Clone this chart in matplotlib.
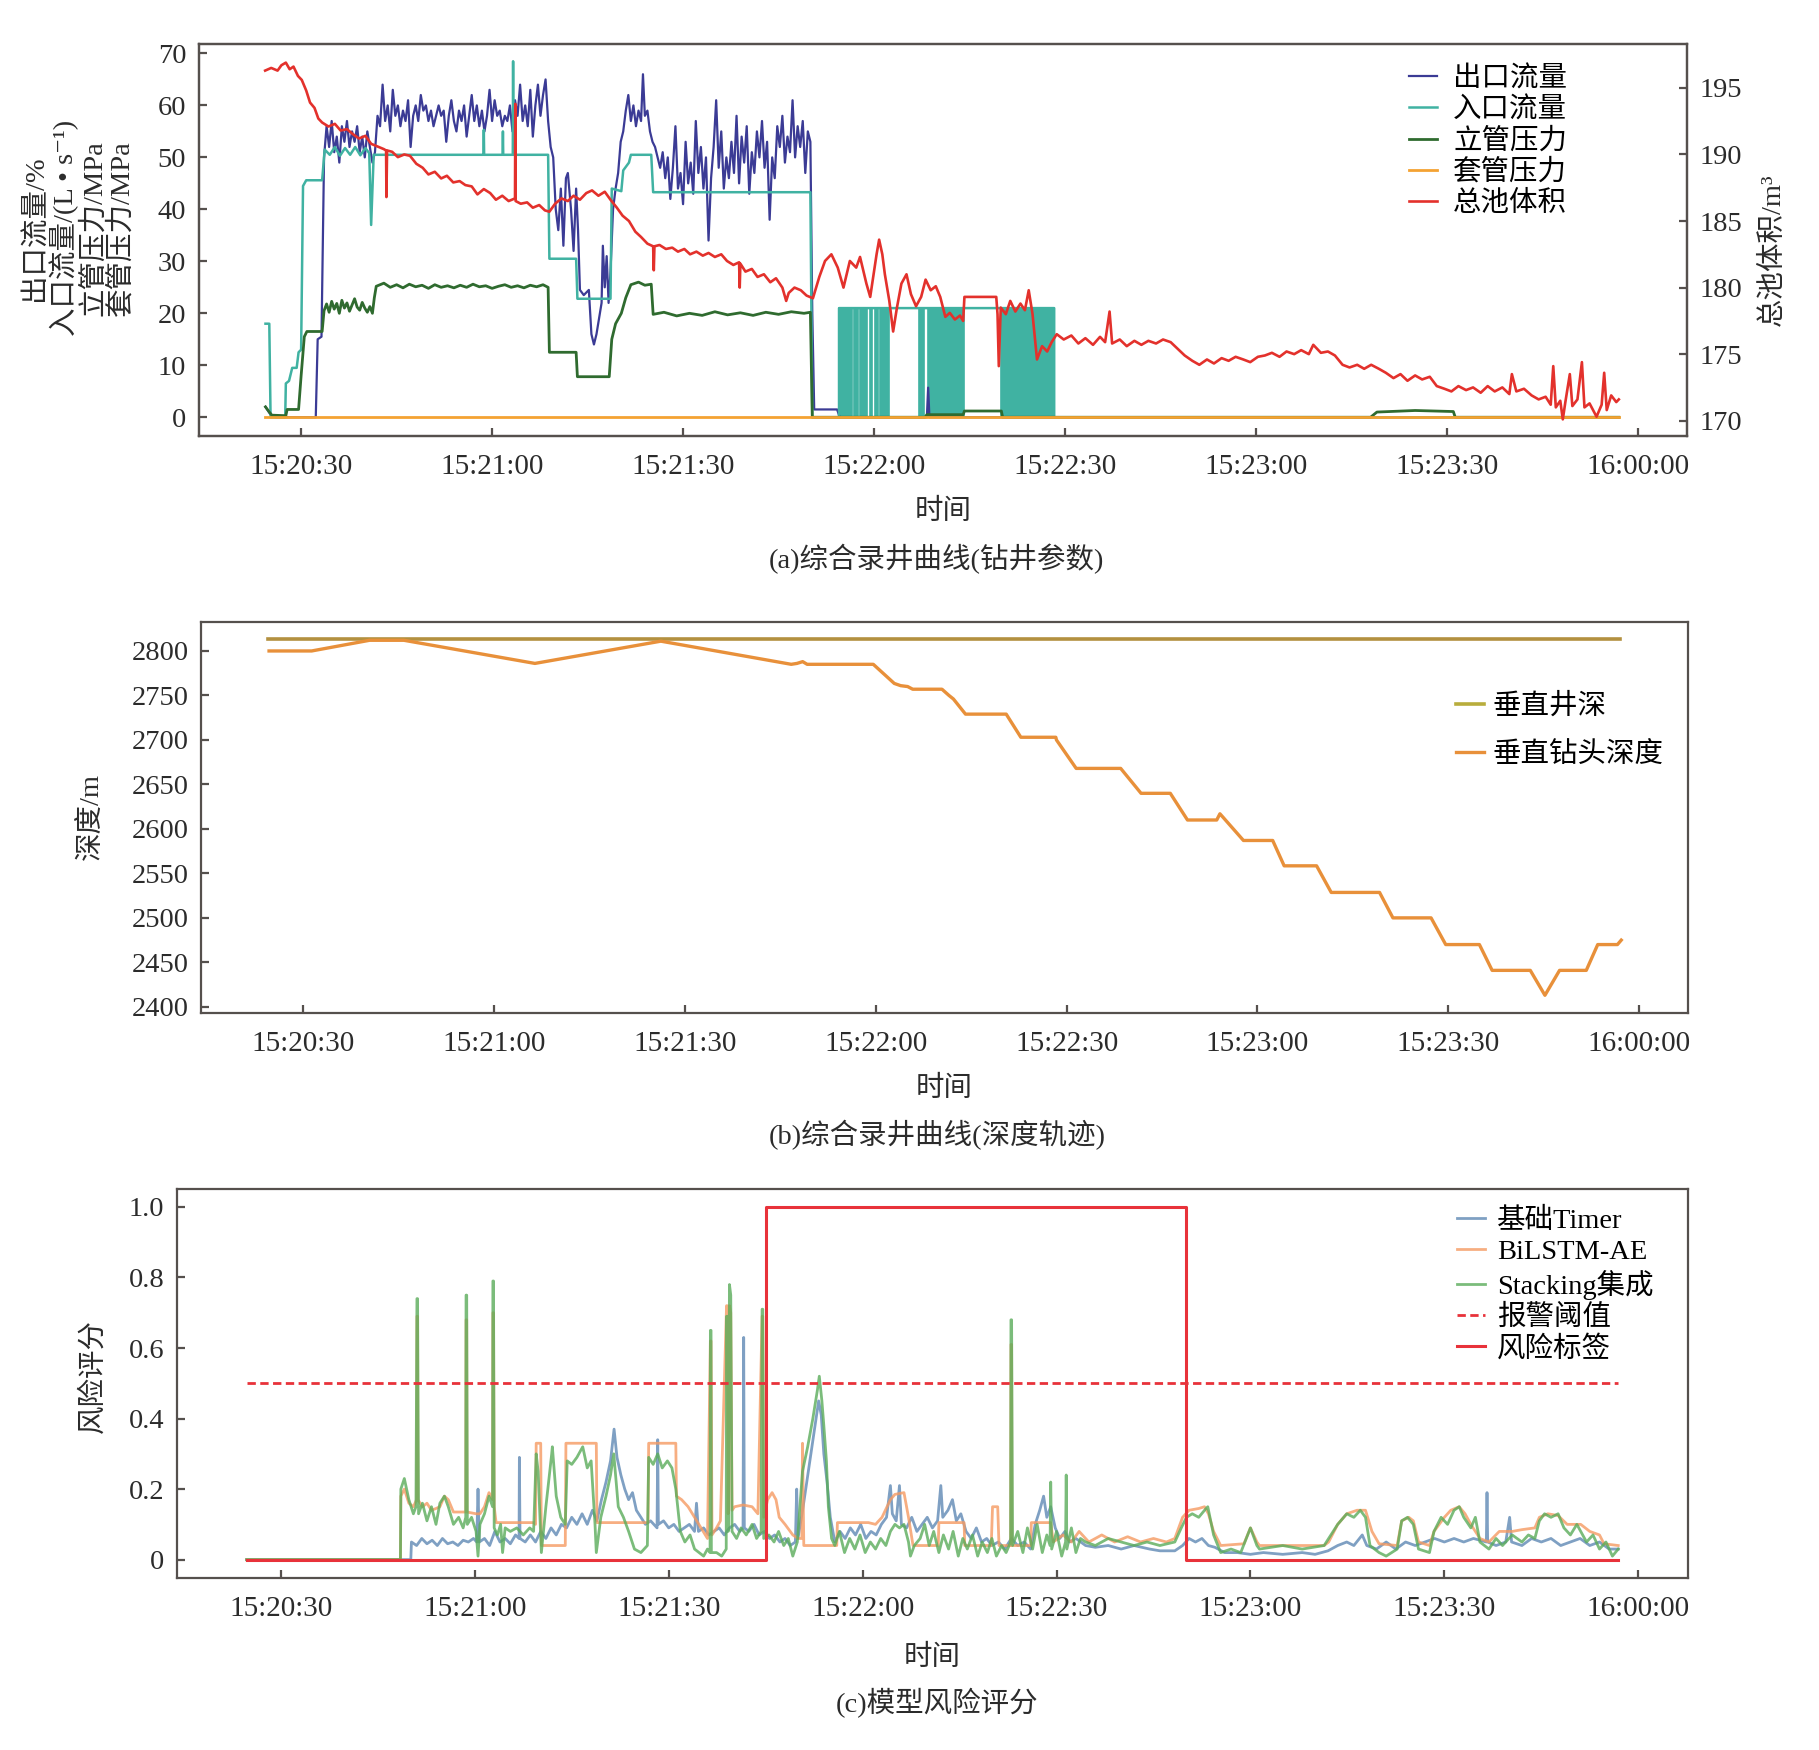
import matplotlib
matplotlib.use('Agg')
import matplotlib.pyplot as plt

plt.rcParams['font.family'] = ['Liberation Serif', 'Noto Sans CJK SC', 'DejaVu Sans']
plt.rcParams['font.size'] = 20.5
plt.rcParams['axes.unicode_minus'] = False

# ---------------- shared time axis (seconds from 15:20:30) ----------------
TICK_SECONDS = [0, 30, 60, 90, 120, 150, 180, 210]
TICK_LABELS = ['15:20:30', '15:21:00', '15:21:30', '15:22:00',
               '15:22:30', '15:23:00', '15:23:30', '16:00:00']

# ---------------- panel (a) data ----------------
OUTLET = [(-5.6, 2.0), (-4.8, 0.5), (-4.0, 0.0), (2.3, 0.0), (2.6, 15.0), (3.2, 15.5), (3.6, 50), (4.0, 56),
          (4.4, 52), (4.8, 57), (5.2, 51), (5.6, 54), (6.0, 49), (6.4, 56), (6.8, 53), (7.2, 57), (7.6, 52),
          (8.0, 55), (8.4, 53), (8.8, 56), (9.2, 51), (9.6, 54), (10.0, 50), (10.4, 55), (10.8, 52), (11.2, 49),
          (11.6, 51), (12.0, 58), (12.4, 56), (12.8, 64), (13.2, 57), (13.6, 60), (14.0, 55), (14.4, 63),
          (14.8, 58), (15.2, 60), (15.6, 56), (16.0, 59), (16.4, 57), (16.8, 61), (17.2, 52), (17.6, 58),
          (18.0, 60), (18.4, 57), (18.8, 62), (19.2, 59), (19.6, 60), (20.0, 57), (20.4, 59), (20.8, 56),
          (21.2, 58), (21.6, 60), (22.0, 58), (22.4, 59), (22.8, 53), (23.2, 58), (23.6, 61), (24.0, 57),
          (24.4, 55), (24.8, 59), (25.2, 57), (25.6, 60), (26.0, 54), (26.4, 58), (26.8, 62), (27.2, 57),
          (27.6, 60), (28.0, 56), (28.4, 59), (28.8, 55), (29.2, 58), (29.6, 63), (30.0, 57), (30.4, 61),
          (30.8, 58), (31.2, 59), (31.6, 56), (32.0, 58), (32.4, 57), (32.8, 60), (33.2, 55), (33.6, 61),
          (34.0, 58), (34.4, 64), (34.8, 57), (35.2, 60), (35.6, 56), (36.0, 63), (36.4, 54), (36.8, 60),
          (37.2, 64), (37.6, 58), (38.0, 62), (38.4, 65), (38.8, 57), (39.2, 52), (39.6, 50), (40.0, 40),
          (40.4, 36), (40.8, 44), (41.2, 33), (41.6, 46), (41.9, 47), (42.4, 40), (42.8, 32), (43.2, 44),
          (43.5, 36), (43.8, 24.5), (44.4, 23.5), (45.2, 24.5), (45.6, 16), (46.0, 14), (46.4, 16), (46.8, 19),
          (47.2, 22), (47.4, 33), (47.7, 25), (48.0, 31), (48.3, 22), (48.6, 28), (49.0, 40), (49.4, 44),
          (49.8, 47), (50.2, 53), (50.6, 55), (51.0, 59), (51.4, 62), (51.8, 57), (52.2, 60), (52.6, 56),
          (53.0, 59), (53.4, 57), (53.7, 66), (54.0, 58), (54.4, 59), (54.8, 55), (55.2, 53), (55.6, 52),
          (56.0, 50), (56.4, 48), (56.8, 51), (57.2, 46), (57.6, 50), (58.0, 42), (58.4, 48), (58.8, 56),
          (59.2, 44), (59.6, 47), (60.0, 41), (60.4, 53), (60.8, 45), (61.2, 49), (61.6, 43), (62.0, 57),
          (62.4, 47), (62.8, 52), (63.2, 44), (63.6, 50), (64.0, 34), (64.4, 46), (64.8, 52), (65.2, 61),
          (65.6, 48), (66.0, 55), (66.4, 44), (66.8, 50), (67.2, 46), (67.6, 53), (68.0, 47), (68.4, 58),
          (68.8, 45), (69.2, 54), (69.6, 49), (70.0, 56), (70.4, 43), (70.8, 51), (71.2, 47), (71.6, 55),
          (72.0, 50), (72.4, 57), (72.8, 48), (73.2, 53), (73.6, 38), (74.0, 50), (74.4, 46), (74.8, 56),
          (75.2, 52), (75.6, 58), (76.0, 49), (76.4, 54), (76.8, 51), (77.2, 61), (77.6, 50), (78.0, 56),
          (78.4, 52), (78.8, 57), (79.2, 47), (79.6, 55), (80.0, 53), (80.3, 20), (80.6, 1.5), (84.2, 1.5),
          (84.6, 0.0), (98.3, 0.0), (98.5, 5.7), (98.7, 0.0), (207.0, 0.0)]

INLET = [(-5.6, 18.0), (-5.0, 18.0), (-4.8, 0.0), (-2.5, 0.0), (-2.4, 6.5), (-1.9, 7.0), (-1.4, 9.5),
         (-0.7, 9.5), (-0.4, 12.5), (0.0, 13.0), (0.3, 44.5), (0.8, 45.6), (3.3, 45.6), (3.7, 51.5),
         (4.5, 50.5), (5.3, 52.0), (6.1, 50.3), (6.9, 51.8), (7.7, 50.5), (8.5, 52.0), (9.3, 50.4),
         (10.1, 51.8), (10.7, 50.8), (11.0, 37.0), (11.4, 50.5), (28.65, 50.5), (28.7, 55.3), (28.75, 50.5),
         (31.65, 50.5), (31.7, 55.0), (31.75, 50.5), (33.25, 50.5), (33.3, 68.5), (33.35, 50.5), (38.8, 50.5),
         (39.0, 30.5), (43.2, 30.5), (43.4, 22.8), (48.6, 22.8), (48.8, 44.0), (50.3, 43.5), (50.6, 47.5),
         (51.5, 49.0), (51.8, 50.5), (55.0, 50.5), (55.3, 43.3), (80.0, 43.3), (80.3, 0.0), (84.5, 0.0),
         (84.5, 21.0), (118.3, 21.0), (118.3, 0.0), (207.0, 0.0)]
# intervals where the inlet flow toggles 0 <-> 21 too fast to resolve (appears filled)
INLET_TOGGLE_SPANS = [(84.5, 86.5), (86.8, 87.5), (87.8, 88.9), (89.3, 89.7), (90.2, 90.7), (91.0, 92.3),
                      (97.0, 97.8), (98.5, 104.2), (109.9, 118.3)]
INLET_TOGGLE_HIGH = 21.0

SPP = [(-5.6, 2.0), (-5.0, 1.0), (-4.6, 0.4), (-2.4, 0.3), (-2.2, 1.5), (-0.4, 1.5), (0.0, 8), (0.5, 15.5),
       (0.9, 16.5), (3.3, 16.5), (3.6, 20.5), (4.0, 21.8), (4.4, 20.2), (4.8, 22.3), (5.2, 20.8), (5.6, 21.9),
       (6.0, 20.0), (6.4, 22.5), (6.8, 21.0), (7.2, 22.0), (7.6, 20.4), (8.0, 21.6), (8.4, 22.8), (8.8, 21.2),
       (9.2, 20.6), (9.6, 22.1), (10.0, 21.0), (10.4, 20.2), (10.8, 21.3), (11.2, 20.0), (11.5, 23),
       (11.8, 25.2), (13, 25.8), (14, 25.0), (15, 25.5), (16, 24.9), (17, 25.6), (18, 25.1), (19, 25.4),
       (20, 24.8), (21, 25.5), (22, 25.0), (23, 25.3), (24, 24.9), (25, 25.4), (26, 25.0), (27, 25.6),
       (28, 25.1), (29, 25.3), (30, 24.8), (31, 25.2), (32, 25.5), (33, 25.0), (34, 25.3), (35, 24.9),
       (36, 25.4), (37, 25.1), (38, 25.5), (38.8, 25.0), (39.0, 12.5), (43.2, 12.5), (43.4, 7.8), (48.4, 7.8),
       (48.8, 15.0), (49.4, 18.0), (50.3, 20.0), (51.0, 23.0), (51.8, 25.5), (53, 26.0), (54, 25.4),
       (55.0, 25.6), (55.3, 19.8), (57, 20.2), (59, 19.5), (61, 20.0), (63, 19.6), (65, 20.3), (67, 19.7),
       (69, 20.1), (71, 19.6), (73, 20.2), (75, 19.8), (77, 20.3), (79, 20.0), (80.0, 20.2), (80.3, 0.0),
       (98.0, 0.0), (98.3, 0.5), (104.0, 0.5), (104.2, 1.2), (110.0, 1.2), (110.2, 0.0), (168.0, 0.0),
       (169.0, 1.0), (175, 1.3), (181.0, 1.1), (181.3, 0.0), (207.0, 0.0)]

CASING = [(-5.6, 0.0), (207.0, 0.0)]

POOL = [(-5.65, 196.3), (-4.7, 196.5), (-3.7, 196.3), (-3.1, 196.7), (-2.4, 196.9), (-1.8, 196.4), (-1.2, 196.6),
        (-0.5, 195.9), (0.1, 195.6), (0.8, 194.8), (1.4, 193.9), (2.1, 193.5), (2.7, 192.7), (3.3, 192.4),
        (4.3, 192.1), (5.3, 192.3), (6.2, 191.8), (7.2, 191.9), (8.2, 191.5), (9.1, 191.2), (10.1, 191.4),
        (11.0, 190.8), (12.0, 190.6), (13.0, 190.4), (13.35, 190.3), (13.4, 186.8), (13.5, 190.3), (14.3, 190.2),
        (15.2, 189.8), (16.2, 190.0), (17.1, 189.9), (18.1, 189.3), (19.1, 189.0), (20.0, 188.5), (21.0, 188.7),
        (22.0, 188.2), (22.9, 188.4), (23.9, 187.9), (24.9, 188.0), (25.8, 187.7), (26.8, 187.6), (27.7, 187.0),
        (28.7, 187.4), (29.7, 187.1), (30.6, 186.6), (31.6, 186.9), (32.6, 186.5), (33.6, 186.7), (33.65, 193.8),
        (33.7, 186.5), (34.5, 186.3), (35.5, 186.4), (36.4, 186.0), (37.4, 186.2), (38.3, 185.8), (39.0, 185.7),
        (39.9, 186.3), (40.9, 186.7), (41.9, 186.5), (42.8, 186.9), (43.8, 186.6), (44.8, 187.1), (45.7, 187.3),
        (46.7, 186.9), (47.7, 187.2), (48.6, 186.6), (49.6, 186.0), (50.5, 185.4), (51.5, 185.0), (52.5, 184.2),
        (53.4, 183.8), (54.4, 183.3), (55.3, 183.1), (55.4, 181.3), (55.5, 183.1), (56.3, 183.2), (57.3, 182.9),
        (58.3, 183.0), (59.2, 182.7), (60.2, 182.9), (61.1, 182.5), (62.1, 182.7), (63.1, 182.4), (64.0, 182.6),
        (65.0, 182.3), (66.0, 182.5), (66.9, 182.0), (67.9, 181.7), (68.8, 181.9), (68.9, 180.0), (69.0, 181.8),
        (69.8, 181.2), (70.8, 181.4), (71.7, 180.8), (72.7, 181.0), (73.7, 180.4), (74.6, 180.7), (75.6, 180.0),
        (76.2, 179.0), (76.6, 179.6), (77.5, 180.0), (78.5, 179.8), (79.4, 179.4), (80.4, 179.2), (81.4, 180.8),
        (82.3, 182.0), (83.3, 182.5), (84.3, 181.5), (85.2, 180.0), (86.2, 182.0), (87.2, 181.5), (87.8, 182.3),
        (88.8, 180.3), (89.4, 179.3), (90.4, 182.5), (90.8, 183.6), (91.3, 182.5), (91.7, 181.0), (92.4, 179.0),
        (93.0, 176.7), (93.6, 178.5), (94.3, 180.3), (95.1, 181.0), (95.8, 179.5), (96.6, 178.6), (97.4, 179.3),
        (98.1, 180.6), (98.9, 179.8), (99.7, 180.1), (100.4, 179.3), (101.2, 177.8), (101.9, 178.1),
        (102.7, 177.6), (103.5, 177.9), (104.0, 177.5), (104.2, 179.3), (109.2, 179.3), (109.4, 178.0),
        (109.6, 174.1), (109.9, 178.5), (110.7, 178.0), (111.4, 179.0), (112.2, 178.2), (113.0, 178.8),
        (113.7, 178.3), (114.3, 179.8), (114.9, 178.0), (115.6, 174.6), (116.4, 175.6), (117.2, 175.2),
        (117.9, 175.9), (118.7, 176.5), (119.8, 176.1), (121.0, 176.4), (122.1, 175.8), (123.2, 176.2),
        (124.4, 175.7), (125.5, 176.3), (126.3, 175.9), (127.0, 178.2), (127.4, 175.8), (128.6, 176.1),
        (129.7, 175.6), (130.9, 176.0), (132.0, 175.7), (133.1, 176.0), (134.3, 175.8), (135.4, 176.1),
        (136.6, 175.9), (137.7, 175.4), (138.8, 174.9), (140.0, 174.5), (141.1, 174.2), (142.3, 174.6),
        (143.4, 174.3), (144.6, 174.7), (145.7, 174.5), (146.8, 174.8), (148.0, 174.6), (149.1, 174.4),
        (150.3, 174.8), (151.4, 174.9), (152.5, 175.1), (153.7, 174.8), (154.8, 175.2), (156.0, 175.0),
        (157.1, 175.3), (158.3, 175.0), (159.0, 175.7), (160.2, 175.1), (161.3, 175.2), (162.4, 174.9),
        (163.6, 174.2), (164.7, 174.0), (165.9, 174.2), (167.0, 173.9), (168.1, 174.2), (169.3, 173.9),
        (170.4, 173.6), (171.6, 173.2), (172.7, 173.5), (173.8, 173.0), (175.0, 173.4), (176.1, 173.1),
        (177.3, 173.3), (178.4, 172.6), (179.6, 172.4), (180.7, 172.2), (181.8, 172.6), (183.0, 172.3),
        (184.1, 172.5), (185.3, 172.1), (186.4, 172.6), (187.5, 172.2), (188.7, 172.5), (189.8, 172.0),
        (190.2, 173.5), (190.9, 172.2), (192.1, 172.4), (193.3, 171.9), (194.4, 171.6), (195.5, 171.8),
        (196.3, 171.2), (196.7, 174.1), (197.1, 171.0), (197.8, 171.5), (198.2, 170.1), (198.6, 171.4),
        (199.3, 173.5), (199.7, 171.1), (200.5, 171.6), (201.2, 174.4), (201.6, 171.0), (202.4, 171.3),
        (203.5, 170.3), (204.3, 171.2), (204.7, 173.6), (205.1, 170.8), (205.8, 171.9), (206.6, 171.4),
        (207.0, 171.6)]

# ---------------- panel (b) data ----------------
WELL_DEPTH = [(-5.6, 2812.9), (207.0, 2812.9)]
BIT_DEPTH = [(-5.4, 2800), (1.3, 2800), (10.4, 2812), (15.8, 2812), (36.4, 2786), (56.2, 2811), (76.7, 2785),
             (77.6, 2786), (78.5, 2788), (79.2, 2785), (89.6, 2785), (92.9, 2763.5), (93.9, 2761), (95.0, 2760),
             (95.8, 2757), (100.4, 2757), (101.5, 2750), (102.2, 2746), (104.1, 2729), (110.5, 2729),
             (112.8, 2703), (118.3, 2703), (118.4, 2700), (121.5, 2668), (128.5, 2668), (131.7, 2640),
             (136.3, 2640), (139.0, 2610), (143.6, 2610), (144.1, 2617), (144.6, 2613), (147.8, 2587),
             (152.4, 2587), (154.2, 2558.5), (159.3, 2558.5), (161.6, 2528.6), (169.2, 2528.6), (171.3, 2500),
             (177.3, 2500), (179.6, 2470), (184.9, 2470), (186.9, 2441), (192.9, 2441), (195.2, 2413),
             (197.5, 2441), (201.7, 2441), (203.5, 2470), (206.6, 2470), (207.2, 2475)]

# ---------------- panel (c) data ----------------
TIMER = [(-5.3, 0), (20.1, 0), (20.2, 0.05), (21.0, 0.04), (21.8, 0.06), (22.6, 0.045), (23.4, 0.055),
         (24.2, 0.04), (25.0, 0.06), (25.8, 0.045), (26.6, 0.05), (27.4, 0.04), (28.2, 0.055), (29.0, 0.05),
         (29.8, 0.06), (30.3, 0.05), (30.5, 0.20), (30.7, 0.05), (31.5, 0.06), (32.3, 0.04), (33.1, 0.08),
         (33.9, 0.05), (34.7, 0.06), (35.5, 0.045), (36.3, 0.07), (36.85, 0.06), (36.9, 0.29), (37.0, 0.06),
         (37.8, 0.05), (38.6, 0.07), (39.4, 0.05), (40.2, 0.08), (41.0, 0.06), (41.8, 0.09), (42.6, 0.07),
         (43.4, 0.10), (44.2, 0.09), (45.0, 0.12), (45.8, 0.10), (46.6, 0.13), (47.4, 0.10), (48.2, 0.14),
         (48.9, 0.11), (49.6, 0.17), (50.3, 0.22), (51.0, 0.28), (51.55, 0.37), (52.0, 0.29), (52.6, 0.24),
         (53.2, 0.20), (53.8, 0.17), (54.4, 0.19), (55.0, 0.14), (55.7, 0.12), (56.4, 0.10), (57.2, 0.11),
         (58.2, 0.09), (58.3, 0.34), (58.4, 0.10), (59.2, 0.11), (60.0, 0.09), (60.8, 0.10), (61.6, 0.08),
         (62.4, 0.09), (63.2, 0.10), (64.0, 0.08), (64.3, 0.16), (64.6, 0.08), (65.4, 0.09), (66.2, 0.07),
         (67.0, 0.08), (67.8, 0.09), (68.6, 0.07), (69.4, 0.09), (70.2, 0.10), (71.0, 0.08), (71.5, 0.09),
         (71.6, 0.63), (71.7, 0.09), (72.4, 0.08), (73.2, 0.10), (74.0, 0.07), (74.8, 0.08), (75.6, 0.06),
         (76.4, 0.07), (77.2, 0.05), (78.0, 0.06), (78.8, 0.04), (79.6, 0.05), (79.8, 0.20), (80.0, 0.06),
         (80.8, 0.15), (81.6, 0.25), (82.4, 0.35), (83.2, 0.45), (83.6, 0.41), (84.0, 0.30), (84.5, 0.22),
         (85.0, 0.12), (85.7, 0.05), (86.5, 0.08), (87.3, 0.06), (88.1, 0.09), (88.9, 0.07), (89.7, 0.10),
         (90.5, 0.06), (91.3, 0.08), (92.1, 0.07), (92.9, 0.10), (93.7, 0.12), (94.3, 0.21), (94.6, 0.13),
         (95.2, 0.11), (95.7, 0.21), (96.0, 0.10), (96.8, 0.09), (97.6, 0.12), (98.4, 0.08), (99.2, 0.10),
         (100.0, 0.12), (100.8, 0.09), (101.6, 0.11), (102.1, 0.21), (102.4, 0.12), (103.2, 0.14), (103.9, 0.17),
         (104.5, 0.11), (105.2, 0.13), (106.0, 0.08), (106.8, 0.06), (107.6, 0.09), (108.4, 0.05), (109.2, 0.06),
         (110.0, 0.04), (111.0, 0.05), (112.0, 0.03), (113.0, 0.06), (114.0, 0.04), (115.0, 0.05), (116.0, 0.03),
         (116.7, 0.10), (117.4, 0.14), (118.0, 0.18), (118.5, 0.12), (119.1, 0.15), (119.8, 0.09), (120.5, 0.06),
         (121.3, 0.08), (122.0, 0.05), (123.0, 0.06), (124.5, 0.04), (126.0, 0.035), (128.0, 0.04), (130.0, 0.03),
         (132.0, 0.04), (134.4, 0.03), (136.0, 0.025), (138.3, 0.025), (139.5, 0.04), (140.5, 0.06),
         (141.5, 0.05), (142.5, 0.06), (143.5, 0.04), (144.5, 0.035), (146.0, 0.02), (148.0, 0.02),
         (150.0, 0.015), (152.0, 0.02), (155.0, 0.015), (158.0, 0.02), (160.0, 0.015), (162.0, 0.025),
         (163.5, 0.04), (164.9, 0.05), (166.0, 0.04), (167.3, 0.07), (168.0, 0.04), (169.5, 0.03), (171.0, 0.05),
         (172.5, 0.03), (174.0, 0.05), (175.5, 0.04), (177.0, 0.05), (178.5, 0.06), (180.0, 0.05), (181.5, 0.06),
         (183.0, 0.05), (184.5, 0.06), (186.5, 0.05), (186.6, 0.19), (186.7, 0.05), (188.0, 0.04), (189.5, 0.05),
         (190.1, 0.12), (190.4, 0.05), (192.0, 0.04), (193.5, 0.06), (195.0, 0.05), (196.5, 0.06), (198.0, 0.04),
         (199.5, 0.05), (201.0, 0.06), (202.5, 0.04), (204.0, 0.05), (205.5, 0.03), (206.9, 0.03)]

BILSTM = [(-5.3, 0), (18.5, 0), (18.56, 0.18), (19.1, 0.20), (19.8, 0.16), (20.5, 0.15), (21.0, 0.17),
          (21.05, 0.69), (21.15, 0.69), (21.2, 0.17), (21.9, 0.15), (22.6, 0.16), (23.3, 0.14), (24.0, 0.145),
          (24.6, 0.15), (25.3, 0.18), (25.9, 0.17), (26.7, 0.135), (28.6, 0.135), (28.65, 0.68), (28.75, 0.68),
          (28.8, 0.135), (30.2, 0.13), (30.8, 0.13), (31.5, 0.15), (32.2, 0.19), (32.75, 0.17), (32.8, 0.70),
          (32.9, 0.70), (33.0, 0.15), (33.3, 0.105), (39.1, 0.105), (39.4, 0.10), (39.5, 0.33), (40.2, 0.33),
          (40.3, 0.04), (44.0, 0.04), (44.1, 0.33), (48.8, 0.33), (48.9, 0.105), (56.8, 0.105), (56.9, 0.33),
          (61.1, 0.33), (61.2, 0.18), (62.0, 0.17), (63.0, 0.15), (64.0, 0.12), (65.0, 0.09), (66.0, 0.06),
          (66.45, 0.62), (66.55, 0.62), (66.7, 0.07), (67.4, 0.09), (68.0, 0.11), (68.95, 0.72), (69.05, 0.72),
          (69.2, 0.13), (69.4, 0.72), (69.6, 0.70), (69.8, 0.14), (70.2, 0.15), (71.5, 0.155), (72.9, 0.15),
          (73.8, 0.13), (74.45, 0.69), (74.55, 0.69), (74.7, 0.12), (75.3, 0.17), (76.0, 0.19), (76.6, 0.17),
          (77.1, 0.12), (78.0, 0.10), (79.2, 0.07), (80.0, 0.06), (80.6, 0.06), (80.7, 0.33), (80.9, 0.04),
          (86.0, 0.04), (86.1, 0.105), (90.9, 0.105), (92.0, 0.10), (93.0, 0.12), (94.3, 0.17), (95.0, 0.185),
          (96.4, 0.19), (97.1, 0.12), (97.8, 0.04), (101.7, 0.04), (101.8, 0.105), (105.7, 0.105), (105.8, 0.04),
          (109.9, 0.04), (110.1, 0.15), (110.9, 0.15), (111.1, 0.04), (112.9, 0.04), (112.95, 0.61),
          (113.05, 0.61), (113.1, 0.04), (116.0, 0.04), (116.1, 0.105), (119.1, 0.105), (119.5, 0.05),
          (121.0, 0.07), (122.3, 0.05), (123.5, 0.08), (125.0, 0.05), (127.0, 0.07), (129.0, 0.05), (131.0, 0.065),
          (133.0, 0.05), (135.0, 0.06), (137.0, 0.05), (138.3, 0.06), (139.5, 0.12), (140.5, 0.14), (142.0, 0.145),
          (142.9, 0.15), (143.5, 0.13), (144.3, 0.08), (145.4, 0.04), (149.0, 0.045), (150.0, 0.09), (151.0, 0.05),
          (151.4, 0.04), (161.4, 0.04), (162.1, 0.05), (163.5, 0.10), (164.9, 0.13), (166.5, 0.14), (167.8, 0.14),
          (168.8, 0.08), (169.9, 0.045), (172.7, 0.04), (173.4, 0.11), (174.5, 0.12), (175.2, 0.11), (176.0, 0.05),
          (177.7, 0.04), (178.4, 0.08), (180.0, 0.12), (181.0, 0.14), (182.3, 0.15), (183.2, 0.13), (184.1, 0.10),
          (185.5, 0.06), (186.9, 0.05), (188.5, 0.08), (190.5, 0.08), (192.0, 0.085), (194.0, 0.09), (194.7, 0.12),
          (196.0, 0.13), (197.6, 0.125), (199.0, 0.10), (201.1, 0.10), (202.5, 0.08), (204.0, 0.07),
          (204.7, 0.045), (206.9, 0.04)]

STACKING = [(-5.3, 0), (18.5, 0), (18.56, 0.2), (19.1, 0.23), (19.8, 0.17), (20.5, 0.13), (20.9, 0.15),
            (21.05, 0.74), (21.15, 0.74), (21.3, 0.13), (21.9, 0.16), (22.6, 0.11), (23.3, 0.15), (24.0, 0.10),
            (24.6, 0.16), (25.3, 0.18), (25.9, 0.15), (26.7, 0.10), (27.5, 0.12), (28.2, 0.09), (28.6, 0.12),
            (28.65, 0.75), (28.75, 0.75), (28.85, 0.10), (29.5, 0.12), (30.2, 0.08), (30.5, 0.01), (30.8, 0.10),
            (31.5, 0.13), (32.2, 0.18), (32.75, 0.15), (32.8, 0.79), (32.9, 0.79), (33.0, 0.09), (33.5, 0.07),
            (34.0, 0.10), (34.3, 0.02), (34.7, 0.09), (35.5, 0.08), (36.5, 0.09), (37.5, 0.07), (38.5, 0.09),
            (39.1, 0.08), (39.5, 0.30), (39.8, 0.25), (40.3, 0.02), (41.0, 0.15), (41.9, 0.30), (42.0, 0.32),
            (42.6, 0.18), (43.3, 0.12), (44.0, 0.10), (44.3, 0.28), (45.0, 0.27), (45.8, 0.29), (46.7, 0.32),
            (47.4, 0.26), (48.0, 0.28), (48.6, 0.10), (48.8, 0.02), (49.5, 0.12), (50.3, 0.18), (51.0, 0.24),
            (51.5, 0.30), (52.2, 0.15), (53.0, 0.12), (53.8, 0.08), (54.7, 0.03), (55.7, 0.02), (56.7, 0.04),
            (56.9, 0.29), (57.6, 0.27), (58.3, 0.30), (59.0, 0.26), (59.8, 0.28), (60.5, 0.26), (61.1, 0.20),
            (61.8, 0.08), (62.5, 0.05), (63.3, 0.07), (64.0, 0.03), (64.7, 0.02), (65.4, 0.01), (66.0, 0.03),
            (66.4, 0.02), (66.45, 0.65), (66.55, 0.65), (66.6, 0.02), (67.4, 0.02), (68.2, 0.01), (68.9, 0.03),
            (68.95, 0.69), (69.05, 0.69), (69.2, 0.08), (69.4, 0.78), (69.6, 0.75), (69.8, 0.08), (70.5, 0.06),
            (71.2, 0.09), (72.0, 0.07), (72.9, 0.10), (73.6, 0.06), (74.3, 0.08), (74.45, 0.71), (74.55, 0.71),
            (74.7, 0.06), (75.5, 0.07), (76.3, 0.05), (77.0, 0.08), (77.8, 0.04), (78.5, 0.06), (79.2, 0.01),
            (79.9, 0.05), (80.7, 0.25), (81.5, 0.32), (82.3, 0.40), (83.0, 0.48), (83.3, 0.52), (83.7, 0.45),
            (84.0, 0.38), (84.4, 0.28), (84.7, 0.15), (85.2, 0.06), (85.7, 0.04), (86.4, 0.08), (87.2, 0.02),
            (88.0, 0.06), (88.8, 0.03), (89.6, 0.07), (90.4, 0.02), (91.2, 0.05), (92.0, 0.03), (92.8, 0.06),
            (93.6, 0.04), (94.3, 0.08), (95.0, 0.10), (95.7, 0.09), (96.4, 0.10), (97.1, 0.05), (97.4, 0.01),
            (98.0, 0.04), (98.9, 0.06), (99.6, 0.10), (100.3, 0.04), (101.0, 0.08), (101.8, 0.02), (102.5, 0.07),
            (103.3, 0.03), (104.0, 0.08), (104.8, 0.01), (105.5, 0.06), (106.2, 0.03), (107.0, 0.07), (107.8, 0.01),
            (108.5, 0.05), (109.3, 0.02), (110.0, 0.06), (110.7, 0.01), (111.5, 0.04), (112.2, 0.02), (112.9, 0.05),
            (112.95, 0.68), (113.05, 0.68), (113.2, 0.04), (114.0, 0.08), (114.8, 0.02), (115.5, 0.09),
            (116.3, 0.03), (117.0, 0.10), (117.8, 0.02), (118.5, 0.07), (119.0, 0.04), (119.1, 0.22), (119.25, 0.03),
            (120.0, 0.08), (120.8, 0.01), (121.4, 0.05), (121.5, 0.24), (121.6, 0.03), (122.3, 0.09), (123.0, 0.02),
            (123.7, 0.06), (124.5, 0.05), (126.0, 0.04), (128.0, 0.06), (130.0, 0.05), (132.0, 0.04), (134.0, 0.05),
            (136.0, 0.04), (138.3, 0.05), (139.3, 0.09), (140.1, 0.12), (141.0, 0.13), (142.0, 0.12), (142.9, 0.14),
            (143.4, 0.15), (144.3, 0.07), (145.4, 0.02), (147.0, 0.03), (148.5, 0.02), (150.0, 0.09), (151.0, 0.04),
            (151.4, 0.03), (155.0, 0.04), (158.0, 0.03), (161.4, 0.04), (162.1, 0.06), (163.5, 0.10), (164.9, 0.13),
            (166.0, 0.12), (167.0, 0.14), (167.8, 0.12), (168.5, 0.04), (169.9, 0.02), (171.0, 0.01), (172.7, 0.03),
            (173.4, 0.11), (174.3, 0.12), (175.2, 0.10), (176.0, 0.03), (177.7, 0.02), (178.4, 0.08), (179.5, 0.12),
            (180.5, 0.10), (181.5, 0.14), (182.3, 0.15), (183.0, 0.12), (184.1, 0.09), (184.8, 0.12), (185.5, 0.05),
            (186.9, 0.03), (188.0, 0.06), (189.0, 0.04), (190.5, 0.07), (192.0, 0.05), (193.0, 0.07), (194.0, 0.06),
            (194.7, 0.11), (195.5, 0.13), (196.5, 0.12), (197.6, 0.13), (198.5, 0.09), (199.5, 0.07), (200.5, 0.10),
            (201.1, 0.08), (202.0, 0.05), (203.0, 0.07), (204.0, 0.03), (205.0, 0.05), (206.0, 0.01), (206.9, 0.03)]

THRESHOLD = [(-5.3, 0.5), (206.9, 0.5)]
RISK_LABEL = [(-5.3, 0), (75.0, 0), (75.0, 1), (140.0, 1), (140.0, 0), (206.9, 0)]


def xy(pairs):
    return [p[0] for p in pairs], [p[1] for p in pairs]


XLIM = (-16.1, 217.7)
SPINE_C = '#55504d'
TEXT_C = '#2b2b2b'
FS = 20.5


def style_axes(ax):
    for s in ax.spines.values():
        s.set_color(SPINE_C)
        s.set_linewidth(1.6)
    ax.tick_params(axis='both', direction='in', length=6, width=1.6, colors=SPINE_C,
                   labelcolor=TEXT_C, labelsize=FS, pad=9)
    ax.tick_params(axis='x', pad=13, labelsize=21)
    ax.set_xlim(*XLIM)
    ax.set_xticks(TICK_SECONDS)
    ax.set_xticklabels(TICK_LABELS)


fig = plt.figure(figsize=(18.19, 17.5), dpi=100)

# ======================= panel (a) =======================
axa = fig.add_axes([0.1092, 0.7510, 0.8182, 0.2241])
C_OUT, C_IN, C_SPP, C_CAS, C_POOL = '#3b3b95', '#40b2a2', '#2f6b2f', '#f4a232', '#e3312c'
for (s0, s1) in INLET_TOGGLE_SPANS:
    axa.fill_between([s0, s1], [0, 0], [INLET_TOGGLE_HIGH, INLET_TOGGLE_HIGH], color=C_IN,
                     linewidth=1.2, edgecolor=C_IN, zorder=2)
l_out, = axa.plot(*xy(OUTLET), color=C_OUT, lw=1.6, label='出口流量', zorder=3)
l_in, = axa.plot(*xy(INLET), color=C_IN, lw=1.8, label='入口流量', zorder=3)
l_spp, = axa.plot(*xy(SPP), color=C_SPP, lw=2.0, label='立管压力', zorder=3)
l_cas, = axa.plot(*xy(CASING), color=C_CAS, lw=2.0, label='套管压力', zorder=4)
axa.set_ylim(-3.56, 71.9)
axa.set_yticks([0, 10, 20, 30, 40, 50, 60, 70])
style_axes(axa)
axa.tick_params(axis='y', right=False)
axa.set_ylabel('出口流量/%\n入口流量/(L • s⁻¹)\n立管压力/MPa\n套管压力/MPa', fontsize=FS,
               color=TEXT_C, linespacing=1.05, ha='center', va='center', multialignment='center')
axa.yaxis.set_label_coords(-0.0806, 0.53)
axa.set_xlabel('时间', fontsize=FS, color=TEXT_C, va='center')
axa.xaxis.set_label_coords(0.5, -0.193)

axr = axa.twinx()
l_pool, = axr.plot(*xy(POOL), color=C_POOL, lw=1.9, label='总池体积', zorder=5)
axr.set_ylim(168.87, 198.33)
axr.set_yticks([170, 175, 180, 185, 190, 195])
style_axes(axr)
axr.tick_params(axis='y', left=False, right=True)
axr.set_ylabel('总池体积/m³', fontsize=FS, color=TEXT_C, ha='center', va='center', rotation=90)
axr.yaxis.set_label_coords(1.0578, 0.474)
handles = [l_out, l_in, l_spp, l_cas, l_pool]
axr.legend(handles=handles, labels=[h.get_label() for h in handles], loc='upper left',
           bbox_to_anchor=(0.8132, 0.942), frameon=False, fontsize=FS, handlelength=1.0,
           handletextpad=0.55, labelspacing=0.17, borderpad=0, borderaxespad=0)
fig.text(0.515, 1 - 558.5 / 1750, '(a)综合录井曲线(钻井参数)', ha='center', va='center', fontsize=FS, color=TEXT_C)

# ======================= panel (b) =======================
axb = fig.add_axes([0.1105, 0.4211, 0.8175, 0.2237])
C_WELL, C_WELL_LINE, C_BIT = '#b8ad3c', '#b3903f', '#e8903a'
l_well, = axb.plot(*xy(WELL_DEPTH), color=C_WELL_LINE, lw=2.6, label='垂直井深', zorder=3)
l_bit, = axb.plot(*xy(BIT_DEPTH), color=C_BIT, lw=2.4, label='垂直钻头深度', zorder=4)
axb.set_ylim(2393, 2833)
axb.set_yticks([2400, 2450, 2500, 2550, 2600, 2650, 2700, 2750, 2800])
style_axes(axb)
axb.set_ylabel('深度/m', fontsize=FS, color=TEXT_C, ha='center', va='center')
axb.yaxis.set_label_coords(-0.0733, 0.503)
axb.set_xlabel('时间', fontsize=FS, color=TEXT_C, va='center')
axb.xaxis.set_label_coords(0.5, -0.194)
legb = axb.legend(handles=[l_well, l_bit], loc='upper left', bbox_to_anchor=(0.8438, 0.817), frameon=False,
                  fontsize=FS, handlelength=1.0, handletextpad=0.3, labelspacing=0.8, borderpad=0,
                  borderaxespad=0)
legb.legend_handles[0].set_color(C_WELL)
fig.text(0.515, 1 - 1135 / 1750, '(b)综合录井曲线(深度轨迹)', ha='center', va='center', fontsize=FS,
         color=TEXT_C)

# ======================= panel (c) =======================
axc = fig.add_axes([0.0972, 0.0985, 0.8308, 0.2221])
C_TIMER, C_BIL, C_STK, C_RED = '#5f89b4', '#f59a62', '#5aac5a', '#e8323a'
l_t, = axc.plot(*xy(TIMER), color=C_TIMER, lw=2.0, alpha=0.8, label='基础Timer', zorder=3)
l_b, = axc.plot(*xy(BILSTM), color=C_BIL, lw=2.0, alpha=0.8, label='BiLSTM-AE', zorder=4)
l_s, = axc.plot(*xy(STACKING), color=C_STK, lw=2.0, alpha=0.8, label='Stacking集成', zorder=5)
l_th, = axc.plot(*xy(THRESHOLD), color=C_RED, lw=2.0, ls=(0, (3, 1.6)), label='报警阈值', zorder=6)
l_r, = axc.plot(*xy(RISK_LABEL), color=C_RED, lw=2.2, label='风险标签', zorder=6)
axc.set_ylim(-0.051, 1.051)
axc.set_yticks([0, 0.2, 0.4, 0.6, 0.8, 1.0])
axc.set_yticklabels(['0', '0.2', '0.4', '0.6', '0.8', '1.0'])
style_axes(axc)
axc.set_ylabel('风险评分', fontsize=FS, color=TEXT_C, ha='center', va='center')
axc.yaxis.set_label_coords(-0.0555, 0.519)
axc.set_xlabel('时间', fontsize=FS, color=TEXT_C, va='center')
axc.xaxis.set_label_coords(0.5, -0.207)
axc.legend(handles=[l_t, l_b, l_s, l_th, l_r], loc='upper left', bbox_to_anchor=(0.847, 0.951), frameon=False,
           fontsize=FS, handlelength=1.0, handletextpad=0.4, labelspacing=0.17, borderpad=0, borderaxespad=0)
fig.text(0.515, 1 - 1703.5 / 1750, '(c)模型风险评分', ha='center', va='center', fontsize=FS, color=TEXT_C)

fig.savefig('out.png', dpi=100, facecolor='white')
